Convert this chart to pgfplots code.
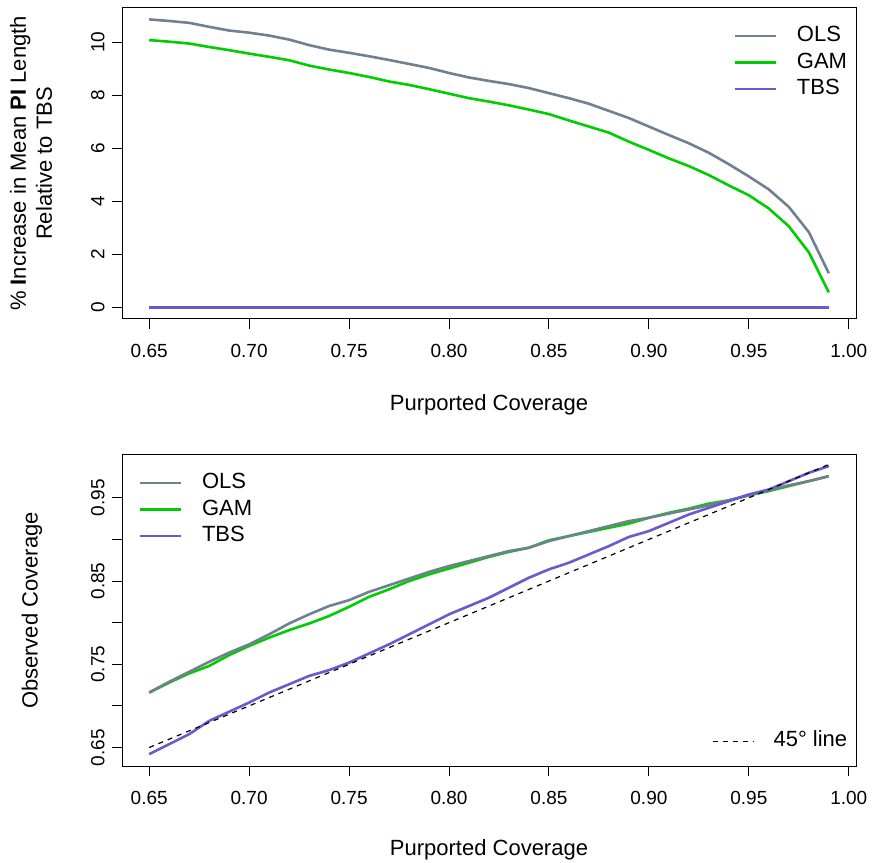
\documentclass[border=0pt]{standalone}
\usepackage{pgfplots}
\pgfplotsset{compat=1.18}
\usepackage{fontspec}
\setmainfont{Liberation Sans}
\definecolor{olscol}{HTML}{708090}
\definecolor{gamcol}{HTML}{00CD00}
\definecolor{tbscol}{HTML}{6A5ACD}

\pgfplotstableread{
x ols gam tbs
0.65 10.86 10.08 0
0.66 10.80 10.02 0
0.67 10.73 9.95 0
0.68 10.58 9.82 0
0.69 10.44 9.70 0
0.70 10.36 9.57 0
0.71 10.25 9.45 0
0.72 10.10 9.32 0
0.73 9.89 9.12 0
0.74 9.72 8.97 0
0.75 9.60 8.84 0
0.76 9.47 8.69 0
0.77 9.33 8.52 0
0.78 9.18 8.39 0
0.79 9.03 8.23 0
0.80 8.84 8.06 0
0.81 8.67 7.89 0
0.82 8.54 7.76 0
0.83 8.42 7.62 0
0.84 8.27 7.46 0
0.85 8.08 7.29 0
0.86 7.89 7.05 0
0.87 7.68 6.82 0
0.88 7.41 6.59 0
0.89 7.14 6.25 0
0.90 6.82 5.94 0
0.91 6.50 5.62 0
0.92 6.19 5.33 0
0.93 5.83 4.99 0
0.94 5.40 4.60 0
0.95 4.94 4.23 0
0.96 4.45 3.73 0
0.97 3.79 3.06 0
0.98 2.84 2.08 0
0.99 1.29 0.57 0
}\toptable

\pgfplotstableread{
x ols gam tbs
0.65 0.716 0.716 0.642
0.66 0.729 0.728 0.654
0.67 0.741 0.739 0.666
0.68 0.753 0.748 0.682
0.69 0.764 0.761 0.693
0.70 0.774 0.772 0.704
0.71 0.786 0.782 0.716
0.72 0.799 0.791 0.726
0.73 0.810 0.799 0.736
0.74 0.820 0.808 0.743
0.75 0.827 0.819 0.752
0.76 0.837 0.831 0.763
0.77 0.845 0.840 0.774
0.78 0.853 0.850 0.786
0.79 0.861 0.858 0.798
0.80 0.868 0.865 0.810
0.81 0.874 0.872 0.820
0.82 0.880 0.879 0.830
0.83 0.886 0.885 0.842
0.84 0.890 0.890 0.854
0.85 0.898 0.899 0.864
0.86 0.904 0.904 0.872
0.87 0.910 0.909 0.882
0.88 0.916 0.914 0.892
0.89 0.922 0.919 0.903
0.90 0.926 0.926 0.910
0.91 0.931 0.932 0.920
0.92 0.936 0.937 0.930
0.93 0.941 0.943 0.938
0.94 0.947 0.947 0.946
0.95 0.953 0.953 0.954
0.96 0.959 0.958 0.960
0.97 0.965 0.964 0.970
0.98 0.970 0.970 0.980
0.99 0.976 0.976 0.988
}\bottable

\pgfplotsset{
  rstyle/.style={
    scale only axis, width=734pt, height=311pt, anchor=south west,
    xmin=0.6364, xmax=1.0036,
    axis line style={line width=1pt},
    every tick/.style={line width=1pt, black},
    tick align=outside, major tick length=10pt, minor tick length=10pt,
    xtick pos=bottom, ytick pos=left,
    xtick={0.65,0.70,0.75,0.80,0.85,0.90,0.95,1.00},
    xticklabels={0.65,0.70,0.75,0.80,0.85,0.90,0.95,1.00},
    tick label style={font=\fontsize{19}{22}\selectfont},
    xticklabel style={yshift=-12pt},
    label style={font=\fontsize{22}{26}\selectfont},
    yticklabel style={xshift=-4pt, rotate=90, anchor=south},
    legend style={draw=none, fill=none, font=\fontsize{22}{26}\selectfont,
      row sep=6pt, nodes={inner sep=0pt, text height=16pt, text depth=4.5pt},
      /tikz/every odd column/.append style={column sep=20pt}},
    legend cell align=left,
    legend image code/.code={\draw[##1] (0pt,0pt) -- (41pt,0pt);},
  },
  olsline/.style={color=olscol, line width=2.6pt},
  gamline/.style={color=gamcol, line width=2.6pt},
  tbsline/.style={color=tbscol, line width=2.6pt},
}

\begin{document}
\begin{tikzpicture}
\path[use as bounding box] (0,0) rectangle (874pt,862pt);

\begin{axis}[rstyle, at={(122pt,543pt)},
  ymin=-0.434, ymax=11.29,
  ytick={0,2,4,6,8,10}, yticklabels={0,2,4,6,8,10},
  xlabel={Purported Coverage},
  xlabel style={at={(axis description cs:0.5,-0.276)}, anchor=center},
  ylabel={\% \textbf{I}ncrease in Mean \textbf{PI} Length\\Relative to TBS},
  ylabel style={at={(axis description cs:-0.124,0.5)}, anchor=center, align=center},
  legend style={at={(axis description cs:0.8285,0.95)}, anchor=north west},
]
\addplot[olsline] table[x=x, y=ols] {\toptable};
\addlegendentry{OLS}
\addplot[gamline] table[x=x, y=gam] {\toptable};
\addlegendentry{GAM}
\addplot[tbsline] table[x=x, y=tbs] {\toptable};
\addlegendentry{TBS}
\end{axis}

\begin{axis}[rstyle, at={(122pt,96pt)},
  ymin=0.6278, ymax=1.0014,
  ytick={0.65,0.75,0.85,0.95}, yticklabels={0.65,0.75,0.85,0.95},
  minor ytick={0.70,0.80,0.90},
  xlabel={Purported Coverage},
  xlabel style={at={(axis description cs:0.5,-0.27)}, anchor=center},
  ylabel={Observed Coverage},
  ylabel style={at={(axis description cs:-0.1226,0.5)}, anchor=center},
  legend style={at={(axis description cs:0.018,0.95)}, anchor=north west},
]
\addlegendimage{olsline}\addlegendentry{OLS}
\addlegendimage{gamline}\addlegendentry{GAM}
\addlegendimage{tbsline}\addlegendentry{TBS}
\addplot[gamline, forget plot] table[x=x, y=gam] {\bottable};
\addplot[olsline, forget plot] table[x=x, y=ols] {\bottable};
\addplot[tbsline, forget plot] table[x=x, y=tbs] {\bottable};
\end{axis}

\begin{axis}[rstyle, at={(122pt,96pt)},
  ymin=0.6278, ymax=1.0014, hide axis,
  legend style={at={(axis description cs:0.8,0.04)}, anchor=south west,
    /tikz/every odd column/.append style={column sep=19pt}},
]
\addplot[black, line width=1.2pt, dash pattern=on 5pt off 5pt] coordinates {(0.65,0.65) (0.99,0.99)};
\addlegendentry{45° line}
\end{axis}
\end{tikzpicture}
\end{document}
